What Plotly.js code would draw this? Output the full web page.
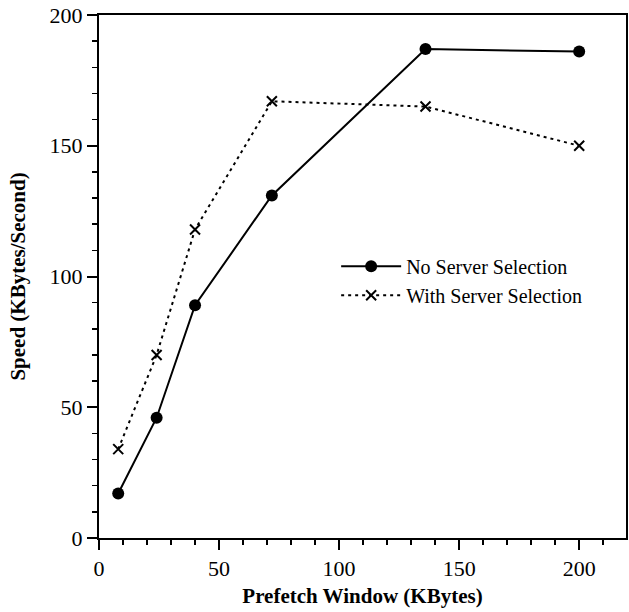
<!DOCTYPE html>
<html>
<head>
<meta charset="utf-8">
<script src="https://cdn.plot.ly/plotly-3.0.1.min.js"></script>
<style>html,body{margin:0;padding:0;background:#fff;}#chart{width:629px;height:612px;}</style>
</head>
<body>
<div id="chart"></div>
<script>
const prefetchWindow = [8, 24, 40, 72, 136, 200];
const noServerSelection = [17, 46, 89, 131, 187, 186];
const withServerSelection = [34, 70, 118, 167, 165, 150];
const seriesNames = ["No Server Selection", "With Server Selection"];
const xTickValues = [0, 50, 100, 150, 200];
const yTickValues = [0, 50, 100, 150, 200];

const FONT = "Liberation Serif, Times New Roman, serif";

const traces = [
  {
    x: prefetchWindow, y: noServerSelection, name: seriesNames[0],
    type: "scatter", mode: "lines+markers",
    line: {color: "#000", width: 2, dash: "solid"},
    marker: {symbol: "circle", size: 12, color: "#000"}
  },
  {
    x: prefetchWindow, y: withServerSelection, name: seriesNames[1],
    type: "scatter", mode: "lines+markers",
    line: {color: "#000", width: 2, dash: "3px,4px"},
    marker: {symbol: "x-thin", size: 10, color: "#000", line: {color: "#000", width: 2}}
  }
];

const axisCommon = {
  showgrid: false, zeroline: false, showline: true, linecolor: "#000", linewidth: 2,
  mirror: true, ticks: "outside", ticklen: 10, tickwidth: 2, tickcolor: "#000",
  tickfont: {family: FONT, size: 22, color: "#000"},
  minor: {dtick: 10, ticks: "outside", ticklen: 5, tickwidth: 1.5, tickcolor: "#000", showgrid: false}
};

const layout = {
  width: 629, height: 612,
  margin: {l: 99, r: 3, t: 15, b: 74},
  paper_bgcolor: "#fff", plot_bgcolor: "#fff",
  showlegend: true,
  legend: {
    x: 0.45, y: 0.492, xanchor: "left", yanchor: "middle",
    itemwidth: 60,
    font: {family: FONT, size: 20, color: "#000"},
    bgcolor: "rgba(0,0,0,0)", tracegroupgap: 0
  },
  xaxis: Object.assign({}, axisCommon, {
    range: [0, 219.5], tickvals: xTickValues, ticktext: xTickValues.map(String),
    title: {text: "<b>Prefetch Window (KBytes)</b>", font: {family: FONT, size: 21, color: "#000"}, standoff: 8}
  }),
  yaxis: Object.assign({}, axisCommon, {
    range: [0, 200], tickvals: yTickValues, ticktext: yTickValues.map(String),
    title: {text: "<b>Speed (KBytes/Second)</b>", font: {family: FONT, size: 21, color: "#000"}, standoff: 18}
  })
};

Plotly.newPlot("chart", traces, layout, {displayModeBar: false, staticPlot: true});
</script>
</body>
</html>
